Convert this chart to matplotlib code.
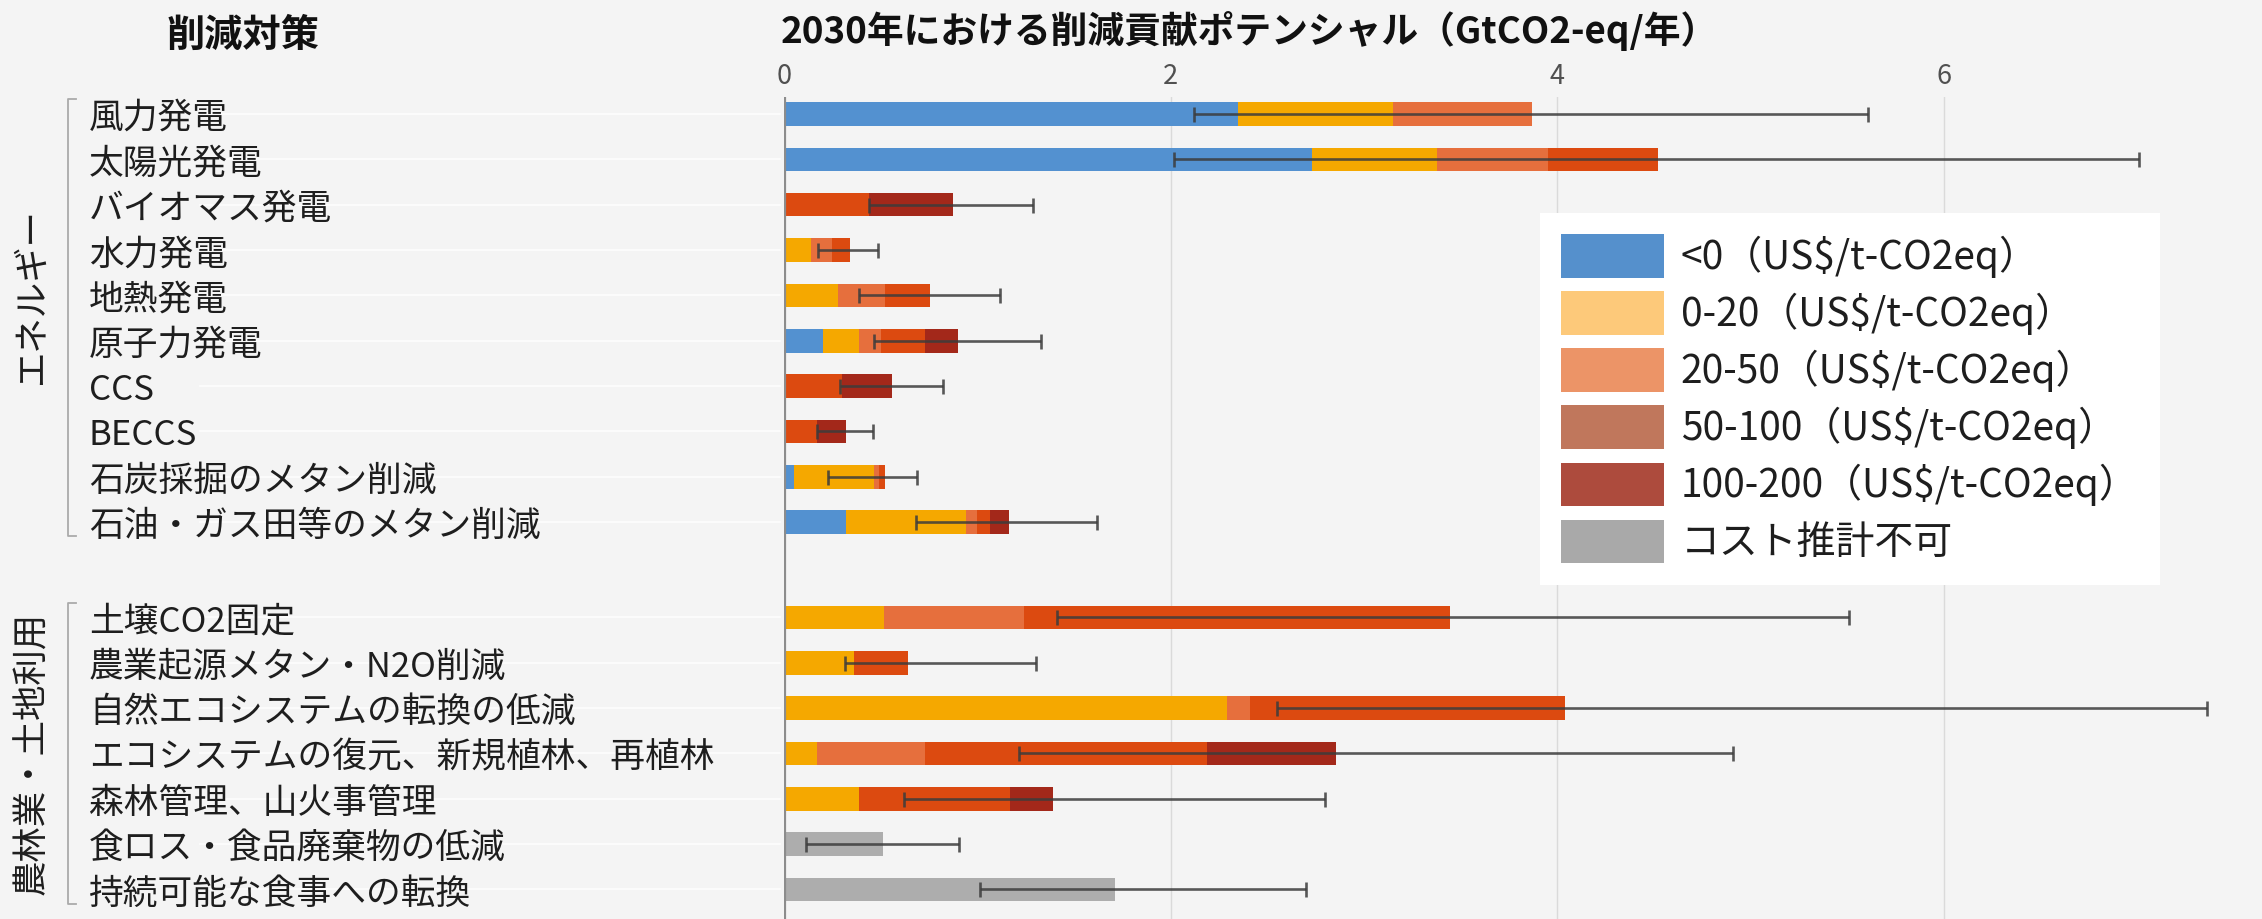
import numpy as np
import matplotlib
matplotlib.use('Agg')
from matplotlib import pyplot as plt
from matplotlib.patches import Patch
from matplotlib.lines import Line2D
from matplotlib.transforms import blended_transform_factory

plt.rcParams['font.family'] = ['Noto Sans CJK JP', 'DejaVu Sans']

energy_names = ['風力発電', '太陽光発電', 'バイオマス発電', '水力発電', '地熱発電',
                '原子力発電', 'CCS', 'BECCS', '石炭採掘のメタン削減',
                '石油・ガス田等のメタン削減']
land_names = ['土壌CO2固定', '農業起源メタン・N2O削減', '自然エコシステムの転換の低減',
              'エコシステムの復元、新規植林、再植林', '森林管理、山火事管理',
              '食ロス・食品廃棄物の低減', '持続可能な食事への転換']
group_names = ['エネルギー', '農林業・土地利用']

cost_labels = ['<0（US$/t-CO2eq）', '0-20（US$/t-CO2eq）', '20-50（US$/t-CO2eq）',
               '50-100（US$/t-CO2eq）', '100-200（US$/t-CO2eq）', 'コスト推計不可']

# potential per cost band, GtCO2-eq/yr
below0 = [2.35, 2.73, 0, 0, 0, 0.20, 0, 0, 0.05, 0.32,
          0, 0, 0, 0, 0, 0, 0]
c0_20 = [0.80, 0.65, 0, 0.14, 0.28, 0.19, 0, 0, 0.415, 0.62,
         0.515, 0.36, 2.29, 0.17, 0.39, 0, 0]
c20_50 = [0.72, 0.57, 0, 0.11, 0.24, 0.11, 0, 0, 0.025, 0.06,
          0.725, 0, 0.12, 0.56, 0, 0, 0]
c50_100 = [0, 0.57, 0.44, 0.09, 0.235, 0.23, 0.30, 0.17, 0.03, 0.065,
           2.205, 0.28, 1.63, 1.46, 0.78, 0, 0]
c100_200 = [0, 0, 0.435, 0, 0, 0.17, 0.26, 0.15, 0, 0.10,
            0, 0, 0, 0.665, 0.22, 0, 0]
no_cost = [0, 0, 0, 0, 0, 0, 0, 0, 0, 0,
           0, 0, 0, 0, 0, 0.51, 1.71]

# uncertainty range (low, high)
range_lo = [2.12, 2.02, 0.44, 0.175, 0.387, 0.464, 0.29, 0.17, 0.227, 0.685,
            1.414, 0.314, 2.55, 1.216, 0.62, 0.113, 1.014]
range_hi = [5.61, 7.01, 1.29, 0.485, 1.12, 1.33, 0.82, 0.46, 0.69, 1.617,
            5.51, 1.306, 7.36, 4.91, 2.80, 0.904, 2.70]

bar_colors = ['#5391d0', '#f5a800', '#e66f3d', '#dc4a10', '#a3281a', '#adadad']
key_colors = ['#5590cc', '#fdc97a', '#ec9467', '#c0775c', '#ad4b3d', '#a9a9a9']

bg = '#f4f4f4'
W, H = 2262, 919
fig = plt.figure(figsize=(W / 100, H / 100), dpi=100, facecolor=bg)

x0_px, unit_px = 784, 193.3
top_px, row0_px, row_px = 97, 114, 45.35
ax = fig.add_axes([x0_px / W, 0, 1 - x0_px / W, 1 - top_px / H])
ax.set_facecolor(bg)
ax.set_xlim(0, (W - x0_px) / unit_px)
ax.set_ylim((H - row0_px) / row_px, -(row0_px - top_px) / row_px)

pos_energy = np.arange(len(energy_names))
pos_land = len(energy_names) + 1.1 + np.arange(len(land_names))
pos = np.concatenate([pos_energy, pos_land])
names = energy_names + land_names

bands = [below0, c0_20, c20_50, c50_100, c100_200, no_cost]
left = np.zeros(len(names))
for vals, col in zip(bands, bar_colors):
    vals = np.array(vals)
    ax.barh(pos, vals, left=left, height=0.52, color=col, lw=0, zorder=3)
    left += vals

lo = np.array(range_lo)
hi = np.array(range_hi)
ax.errorbar(lo, pos, xerr=[np.zeros_like(lo), hi - lo], fmt='none',
            ecolor='#3c3c3c', elinewidth=1.9, capsize=5.4, capthick=1.9,
            alpha=0.85, zorder=4)

for x in [2, 4, 6]:
    ax.axvline(x, color='#dadada', lw=1, zorder=1)
ax.axvline(0, color='#8c8c8c', lw=2.3, zorder=5)

ax.set_xticks([0, 2, 4, 6])
ax.xaxis.set_ticks_position('top')
ax.tick_params(axis='x', length=0, pad=5, labelsize=19.5, labelcolor='#505050')
ax.set_yticks([])
for s in ax.spines.values():
    s.set_visible(False)

# row labels, faint row guides and group brackets on the left
lab_tf = blended_transform_factory(fig.transFigure, ax.transData)
for p, name in zip(pos, names):
    ax.add_line(Line2D([200 / W, 780 / W], [p, p], transform=lab_tf,
                       color='#fdfdfd', lw=1.2, clip_on=False, zorder=0))
    ax.text(89 / W, p + 0.1, name, transform=lab_tf, ha='left', va='center',
            fontsize=25, color='#1e1e1e', clip_on=False)

for gname, gpos in zip(group_names, [pos_energy, pos_land]):
    y_top, y_bot = gpos[0] - 0.32, gpos[-1] + 0.31
    bx, tx = 68 / W, 76 / W
    ax.add_line(Line2D([tx, bx, bx, tx], [y_top, y_top, y_bot, y_bot],
                       transform=lab_tf, color='#aaaaaa', lw=1.3, clip_on=False))
    ax.text(32 / W, (gpos[0] + gpos[-1]) / 2 - 0.5 * (gname == 'エネルギー'),
            gname, transform=lab_tf, rotation=90, ha='center', va='center',
            fontsize=25.5, color='#1e1e1e', clip_on=False)

fig.text(243 / W, 1 - 35 / H, '削減対策', ha='center', va='center',
         fontsize=27.5, fontweight='bold', color='#111111')
fig.text(781 / W, 1 - 31 / H, '2030年における削減貢献ポテンシャル（GtCO2-eq/年）',
         ha='left', va='center', fontsize=26.5, fontweight='bold', color='#111111')

handles = [Patch(facecolor=c, edgecolor='none') for c in key_colors]
leg = ax.legend(handles, cost_labels, loc='upper left',
                bbox_to_anchor=(1540 / W, 1 - 213 / H), bbox_transform=fig.transFigure,
                borderaxespad=0, frameon=True, fancybox=False, framealpha=1,
                facecolor='white', edgecolor='none', fontsize=28,
                handlelength=2.65, handleheight=1.35, handletextpad=0.42,
                labelspacing=0.34, borderpad=0.55)
leg.set_zorder(10)
for t in leg.get_texts():
    t.set_color('#1e1e1e')

fig.savefig('out.png', dpi=100, facecolor=bg)
